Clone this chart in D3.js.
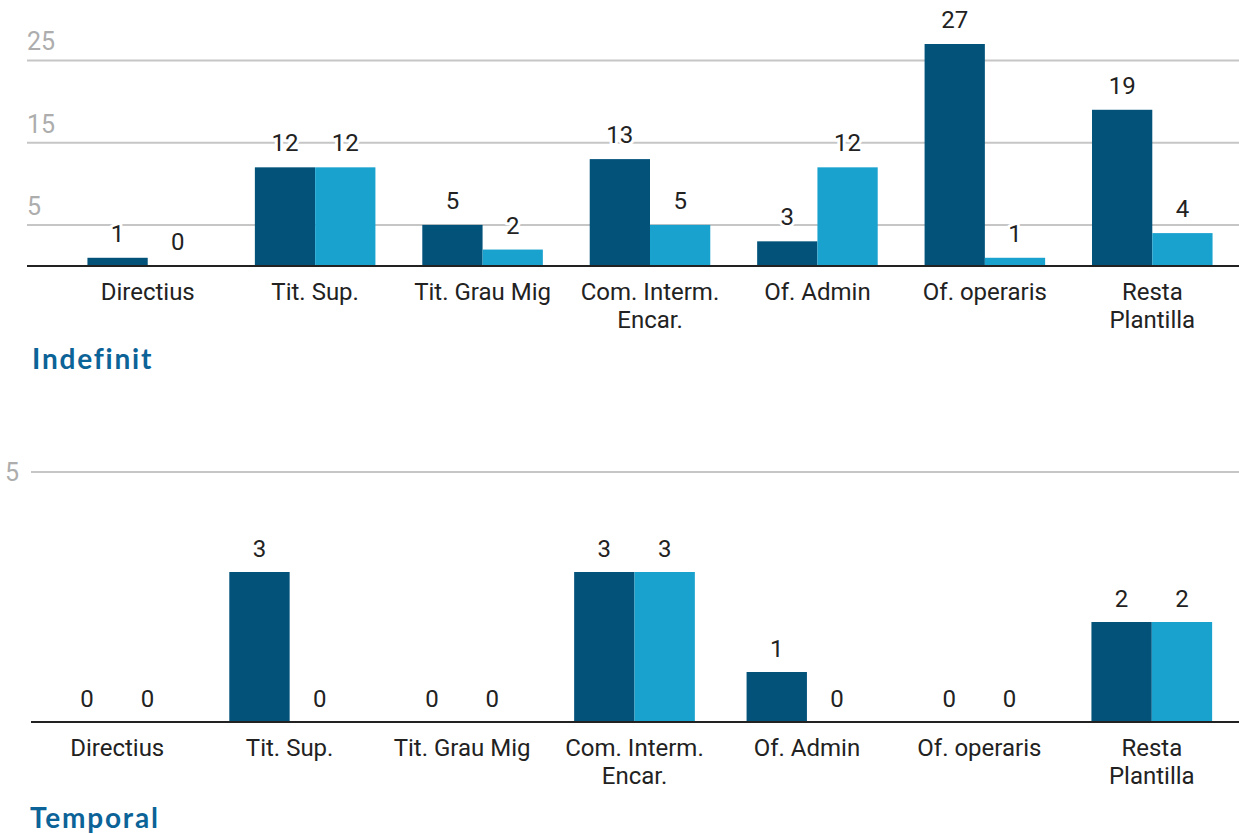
<!DOCTYPE html>
<html>
<head>
<meta charset="utf-8">
<script src="https://cdn.jsdelivr.net/npm/d3@7/dist/d3.min.js"></script>
<style>
  html, body { margin: 0; padding: 0; background: #fff; }
  svg { display: block; }
  .cat { font-family: Roboto, sans-serif; font-size: 24px; fill: #222; }
  .val { font-family: Roboto, sans-serif; font-size: 24px; fill: #222;
         paint-order: stroke; stroke: #fff; stroke-width: 6px; stroke-linejoin: round; }
  .tick-label { font-family: Roboto, sans-serif; font-size: 25px; fill: #adadad; }
  .title { font-family: Lato, sans-serif; font-weight: 700; font-size: 28px; fill: #0b6397; letter-spacing: 1.8px; }
</style>
</head>
<body>
<svg id="chart" width="1239" height="834"></svg>
<script>
// Categories (label lines)
const categories = [
  ["Directius"],
  ["Tit. Sup."],
  ["Tit. Grau Mig"],
  ["Com. Interm.", "Encar."],
  ["Of. Admin"],
  ["Of. operaris"],
  ["Resta", "Plantilla"]
];

// Indefinit contracts
const indefinitSerie1 = [1, 12, 5, 13, 3, 27, 19];
const indefinitSerie2 = [0, 12, 2, 5, 12, 1, 4];
const indefinitTicks = [5, 15, 25];

// Temporal contracts
const temporalSerie1 = [0, 3, 0, 3, 1, 0, 2];
const temporalSerie2 = [0, 0, 0, 3, 0, 0, 2];
const temporalTicks = [5];

const seriesColors = ["#02527a", "#1aa2cf"];

const svg = d3.select("#chart");

function drawPanel(cfg) {
  const g = svg.append("g");
  const keys = categories.map(c => c.join(" "));
  const x = d3.scaleBand().domain(keys).range(cfg.xRange).paddingInner(cfg.pad).paddingOuter(cfg.pad / 2);
  const x1 = d3.scaleBand().domain([0, 1]).range([0, x.bandwidth()]);
  const y = d3.scaleLinear().domain([0, cfg.yMax]).range([cfg.baseY, cfg.topY]);

  // gridlines and tick labels
  cfg.ticks.forEach(t => {
    g.append("line")
      .attr("x1", cfg.gridX).attr("x2", 1239)
      .attr("y1", y(t)).attr("y2", y(t))
      .attr("stroke", "#c6c6c6").attr("stroke-width", 2);
    g.append("text").attr("class", "tick-label")
      .attr("x", cfg.tickX).attr("y", y(t) - cfg.tickDy)
      .text(t);
  });

  const rows = keys.map((k, i) => ({ k, vals: [cfg.s1[i], cfg.s2[i]] }));

  // bars
  const grp = g.selectAll("g.grp").data(rows).join("g")
    .attr("transform", d => `translate(${x(d.k)},0)`);
  grp.selectAll("rect").data(d => d.vals.map((v, j) => ({ v, j }))).join("rect")
    .attr("x", d => x1(d.j)).attr("width", x1.bandwidth())
    .attr("y", d => y(d.v)).attr("height", d => cfg.baseY - y(d.v))
    .attr("fill", d => seriesColors[d.j]);

  // baseline
  g.append("line")
    .attr("x1", cfg.gridX).attr("x2", 1239)
    .attr("y1", cfg.baseY).attr("y2", cfg.baseY)
    .attr("stroke", "#222").attr("stroke-width", 2);

  // value labels
  grp.selectAll("text.val").data(d => d.vals.map((v, j) => ({ v, j }))).join("text")
    .attr("class", "val")
    .attr("text-anchor", "middle")
    .attr("x", d => x1(d.j) + x1.bandwidth() / 2)
    .attr("y", d => y(d.v) - cfg.valDy)
    .text(d => d.v);

  // category labels
  const cl = g.selectAll("text.cat").data(categories).join("text")
    .attr("class", "cat").attr("text-anchor", "middle")
    .attr("x", (d, i) => x(keys[i]) + x.bandwidth() / 2)
    .attr("y", cfg.baseY + 34);
  cl.selectAll("tspan").data(d => d).join("tspan")
    .attr("x", function () { return d3.select(this.parentNode).attr("x"); })
    .attr("dy", (d, i) => i === 0 ? 0 : 28)
    .text(d => d);

  // panel title
  g.append("text").attr("class", "title")
    .attr("x", cfg.titleX).attr("y", cfg.titleY)
    .text(cfg.title);
}

drawPanel({
  title: "Indefinit", titleX: 32, titleY: 369,
  s1: indefinitSerie1, s2: indefinitSerie2, ticks: indefinitTicks,
  xRange: [64, 1236], pad: 0.28,
  yMax: 27, baseY: 266, topY: 44,
  gridX: 27, tickX: 27, tickDy: 10, valDy: 16
});

drawPanel({
  title: "Temporal", titleX: 30, titleY: 828,
  s1: temporalSerie1, s2: temporalSerie2, ticks: temporalTicks,
  xRange: [31, 1238], pad: 0.30,
  yMax: 5, baseY: 722, topY: 472,
  gridX: 31, tickX: 5, tickDy: -9, valDy: 15
});
</script>
</body>
</html>
